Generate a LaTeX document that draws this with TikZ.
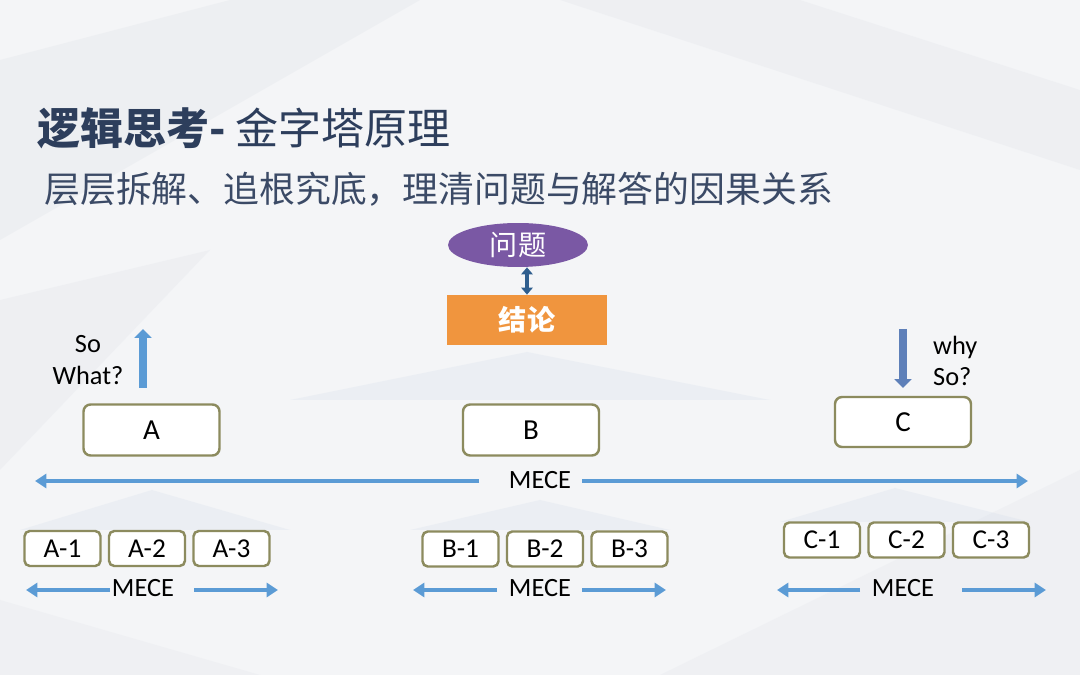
\documentclass[tikz,border=0pt]{standalone}
\usepackage{fontspec}
\setmainfont{Carlito}
\newfontfamily\cjk{Noto Sans CJK SC}
\usetikzlibrary{arrows.meta, shapes.geometric}
\definecolor{bg-gray}{HTML}{F4F5F7}
\definecolor{facet-gray}{HTML}{E9EBEF}
\definecolor{glow-blue}{HTML}{C9D6E6}
\definecolor{title-navy}{HTML}{2D3E5C}
\definecolor{sub-navy}{HTML}{3B4A66}
\definecolor{issue-purple}{HTML}{7A58A4}
\definecolor{concl-orange}{HTML}{F0953E}
\definecolor{link-blue}{HTML}{2F5E8E}
\definecolor{mece-blue}{HTML}{5B9BD5}
\definecolor{why-blue}{HTML}{5E80B9}
\definecolor{box-olive}{HTML}{8C8B5E}

\begin{document}
\begin{tikzpicture}[x=0.02cm, y=-0.02cm,
  every node/.style={font=\fontsize{15}{17}\selectfont, text=black},
  pointbox/.style={draw=box-olive, line width=1.4pt, rounded corners=4pt, fill=white,
    minimum width=2.72cm, minimum height=1.02cm, font=\fontsize{16.5}{18}\selectfont},
  subbox/.style={draw=box-olive, line width=1.4pt, rounded corners=3pt, fill=white,
    minimum width=1.52cm, minimum height=0.7cm, font=\fontsize{15.5}{17}\selectfont},
  meceline/.style={draw=mece-blue, line width=2pt, -{Triangle[length=6.5pt, width=8pt]}},
  fatarrow/.style={line width=4.2pt, -{Triangle[length=5pt, width=9.5pt]}}]
  % background
  \fill[bg-gray] (0,0) rectangle (1080,675);
  \fill[facet-gray, opacity=0.6] (0,60) -- (230,0) -- (420,0) -- (0,240) -- cycle;
  \fill[facet-gray, opacity=0.5] (560,0) -- (800,0) -- (1080,90) -- (1080,170) -- cycle;
  \fill[facet-gray, opacity=0.5] (0,300) -- (210,250) -- (0,470) -- cycle;
  \fill[facet-gray, opacity=0.45] (660,675) -- (1080,470) -- (1080,675) -- cycle;
  \fill[facet-gray, opacity=0.45] (0,600) -- (260,675) -- (0,675) -- cycle;
  \fill[glow-blue, opacity=0.2] (527,352) -- (770,400) -- (290,400) -- cycle;
  \fill[glow-blue, opacity=0.2] (152,490) -- (290,530) -- (20,530) -- cycle;
  \fill[glow-blue, opacity=0.2] (540,500) -- (670,530) -- (410,530) -- cycle;
  \fill[glow-blue, opacity=0.2] (895,488) -- (1030,522) -- (780,522) -- cycle;
  \useasboundingbox (0,0) rectangle (1080,675);

  % title
  \node[anchor=west, inner sep=0pt, text=title-navy, font=\cjk\fontsize{24.5}{27}\selectfont]
    (title) at (37,128) {\textbf{逻辑思考-} 金字塔原理};
  \node[anchor=west, inner sep=0pt, text=sub-navy, font=\cjk\fontsize{20.4}{24}\selectfont]
    (subtitle) at (44,189) {层层拆解、追根究底，理清问题与解答的因果关系};

  % issue and conclusion
  \node[ellipse, fill=issue-purple, minimum width=2.8cm, minimum height=0.88cm, inner sep=0pt,
    text=white, font=\cjk\fontsize{16}{18}\selectfont] (issue) at (518,245) {问题};
  \node[fill=concl-orange, minimum width=3.2cm, minimum height=1.0cm, inner sep=0pt,
    text=white, font=\cjk\bfseries\fontsize{16}{18}\selectfont] (concl) at (527,320) {结论};
  \draw[draw=link-blue, line width=2.6pt, {Triangle[length=4pt, width=6.5pt]}-{Triangle[length=4pt, width=6.5pt]}]
    (issue.south -| concl.north) -- (concl.north);

  % level one
  \node[pointbox] (A) at (151.5,430) {A};
  \node[pointbox] (B) at (531,430) {B};
  \node[pointbox, minimum height=1.0cm] (C) at (903,422) {C};

  \coordinate (upfoot) at (143,388);
  \coordinate (uptip) at (143,329);
  \draw[fatarrow, draw=mece-blue] (upfoot) -- (uptip);
  \node[align=center, font=\fontsize{15}{18}\selectfont] (sowhat) at (88,360) {So\\What?};

  \coordinate (downfoot) at (903,329);
  \coordinate (downtip) at (903,388);
  \draw[fatarrow, draw=why-blue] (downfoot) -- (downtip);
  \node[anchor=west, align=left, font=\fontsize{15}{18}\selectfont] (whyso) at (927,361) {why\\So?};

  % main MECE line
  \node[inner sep=0pt] (mece) at (540,480) {MECE};
  \coordinate (meceL) at (35,481);
  \coordinate (meceLgap) at (479,481);
  \coordinate (meceRgap) at (582,481);
  \coordinate (meceR) at (1028,481);
  \draw[meceline] (meceLgap) -- (meceL);
  \draw[meceline] (meceRgap) -- (meceR);

  % level two
  \foreach \g/\x/\y in {A/62.5/548.5, B/460.5/549, C/822/540} {
    \foreach \i in {1,2,3} {
      \node[subbox] (\g\i) at ({\x+84.5*(\i-1)},\y) {\g-\i};
    }
  }

  % small MECE lines
  \foreach \g/\l/\a/\b/\r/\t in {A/26/110/194/278/143, B/413/497/582/666/540, C/777/860/962/1046/903} {
    \node[inner sep=0pt] (mece\g) at (\t,588) {MECE};
    \coordinate (mece\g L) at (\l,590);
    \coordinate (mece\g a) at (\a,590);
    \coordinate (mece\g b) at (\b,590);
    \coordinate (mece\g R) at (\r,590);
    \draw[meceline] (mece\g a) -- (mece\g L);
    \draw[meceline] (mece\g b) -- (mece\g R);
  }
\end{tikzpicture}
\end{document}
